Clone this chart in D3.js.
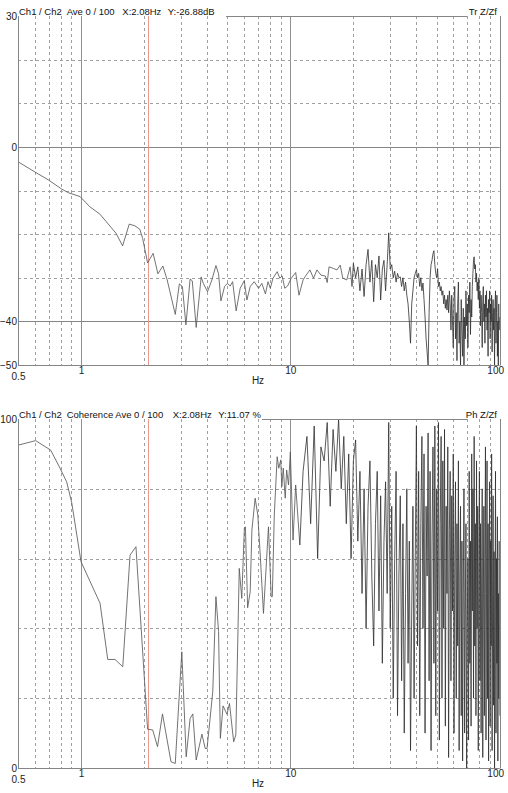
<!DOCTYPE html>
<html><head><meta charset="utf-8">
<script src="https://cdn.jsdelivr.net/npm/d3@7/dist/d3.min.js"></script>
<style>
html,body{margin:0;padding:0;background:#fff;}
svg{display:block;font-family:"Liberation Sans",Arial,Helvetica,sans-serif;}
</style>
</head><body>
<svg id="chart" width="508" height="793"></svg>
<script>
// ---------------- data ----------------
const freqTickValues = [0.5, 1, 10, 100];
const freqTickLabels = ["0.5", "1", "10", "100"];
const minorGridHz = [0.6, 0.7, 0.8, 0.9, 2, 3, 4, 5, 6, 7, 8, 9, 20, 30, 40, 50, 60, 70, 80, 90];
const majorGridHz = [1, 10];
const trTickValues = [30, 0, -40, -50];
const trDashedGrid = [20, 10, -10, -20, -30];
const trSolidGrid = [0, -40];
const cohTickValues = [100, 0];
const cohDashedGrid = [80, 60, 40, 20];
const cursorHz = 2.08;

const trHeader = ["Ch1 / Ch2", "Ave 0 / 100", "X:2.08Hz", "Y:-26.88dB"];
const trRightLabel = "Tr Z/Zf";
const cohHeader = ["Ch1 / Ch2", "Coherence Ave 0 / 100", "X:2.08Hz", "Y:11.07 %"];
const cohRightLabel = "Ph Z/Zf";
const xAxisTitle = "Hz";

// Transmissibility (dB), low band: explicit frequency / value pairs
const trLowHz = [0.5, 0.59, 0.70, 0.81, 0.87, 0.99, 1.10, 1.23, 1.47, 1.58, 1.70, 1.81, 1.91, 1.97, 2.08, 2.21, 2.33, 2.46, 2.58, 2.82,
  2.95, 3.05, 3.17, 3.32, 3.40, 3.55, 3.75, 3.84, 4.02, 4.22, 4.41, 4.54, 4.66, 4.85, 5.0, 5.16, 5.3, 5.51, 5.76, 6.02,
  6.2, 6.43, 6.72, 7.05, 7.31, 7.6, 7.82, 8.02, 8.26, 8.65, 8.9, 9.14, 9.4, 9.7, 10.1, 10.6, 11.0, 11.5, 11.9, 12.4,
  12.9, 13.4, 14.0, 14.7, 15.0, 15.3, 16.1, 16.7, 17.3, 17.8, 18.6, 19.3, 19.7];
const trLowDb = [-3.4, -5.5, -7.6, -9.7, -10.5, -11.4, -13.7, -15.4, -19.8, -22.7, -17.7, -18.1, -18.9, -21, -26.6, -24.4, -29.1, -27.3, -30.5, -38.4,
  -31.4, -32, -40.8, -30.3, -30.7, -41.4, -29.8, -31.3, -33.2, -30.5, -27.2, -29.1, -35.3, -32, -31.3, -31.9, -30.9, -37.6, -32.4, -30.7,
  -35.1, -32, -30.9, -32.4, -31.3, -33.7, -30.9, -32.4, -30.1, -28.6, -30.1, -29.6, -32.4, -31.9, -30.1, -28.8, -34, -30.5, -29.4, -28.2,
  -30.1, -28.2, -29.4, -29.6, -31.1, -27.5, -27.9, -28.2, -27.1, -30.1, -30.5, -27.5, -32];
// Transmissibility (dB), high band: bins from 20 Hz every 0.5 Hz
const trHighStartHz = 20, trHighStepHz = 0.5;
const trHighDb = [
  -26.7, -30, -27.5, -33, -28, -34.3, -27, -23.5, -31, -26,
  -35.5, -27, -30, -25, -35.1, -28, -26, -33, -27, -19.7,
  -28, -27, -30, -28.5, -31, -29, -30, -29.8, -32, -30,
  -33, -31, -34, -36, -40, -45, -36, -33, -30, -29,
  -28.2, -30, -29, -32, -30, -33, -31.2, -35, -39, -44,
  -47, -50, -38, -30, -27, -26, -24.5, -23.8, -27, -29,
  -30, -28, -32, -31, -33, -32, -34, -33, -36, -34,
  -37, -35, -37.4, -34, -38, -33, -36, -42, -34, -40,
  -46, -35, -32, -44, -38, -49, -36, -31, -45, -40,
  -50, -35, -42, -48, -37, -50, -39, -44, -33, -41,
  -36, -46, -34, -38, -31, -43, -35, -39, -32, -29,
  -26, -25.2, -28, -27, -31, -29, -33, -31, -35, -30,
  -37, -33, -41, -34, -38, -46, -35, -32, -40, -36,
  -45, -34, -39, -33, -42, -37, -48, -35, -38, -33,
  -44, -36, -40, -34, -47, -38, -35, -42, -37, -50,
  -36, -33, -45, -38, -34, -48, -40, -50, -36, -42,
  -39];

// Coherence (%), low band: explicit frequency / value pairs
const cohLowHz = [0.5, 0.607, 0.716, 0.788, 0.854, 0.903, 1.0, 1.233, 1.342, 1.454, 1.583, 1.715, 1.83, 2.08, 2.2, 2.32, 2.45, 2.69, 2.82, 3.03,
  3.18, 3.32, 3.42, 3.55, 3.78, 3.92, 4.0, 4.26, 4.41, 4.54, 4.63, 4.77, 4.98, 5.12, 5.36, 5.49, 5.7, 5.86, 6.03, 6.1,
  6.25, 6.43, 6.55, 6.79, 6.99, 7.18, 7.44, 7.86, 8.1, 8.2, 8.38, 8.65, 8.8, 9.0, 9.1, 9.25, 9.45, 9.6, 9.8, 10.0,
  10.3, 10.6, 11.1];
const cohLowPct = [92.5, 93.8, 91.1, 86.3, 82, 76, 59.1, 47.2, 31.1, 31.1, 29, 61, 63.4, 11.1, 10.9, 6.1, 15.5, 1.8, 1.3, 33.3,
  3.2, 14.2, 15.5, 2.3, 9.7, 5.6, 5.6, 21.9, 49.1, 39.1, 8.5, 17.8, 15.4, 18.5, 7.5, 9.5, 57.2, 48.6, 68.7, 69.1,
  45.9, 50.5, 68.2, 77.3, 72.5, 61, 44.3, 69.1, 49.1, 49.1, 72.5, 89.2, 85.9, 88.3, 80.6, 85.9, 77.3, 85.4, 81.1, 90.6,
  65.3, 81.1, 63.9];
// Coherence (%), high band: bins from 11.5 Hz every 0.5 Hz
const cohHighStartHz = 11.5, cohHighStepHz = 0.5;
const cohHighPct = [
  85, 95, 70, 98, 60, 92, 88, 99, 75, 97,
  85, 100, 80, 95, 70, 90, 60, 88, 94, 65,
  85, 50, 80, 40, 75, 88, 55, 35, 70, 85,
  45, 78, 30, 65, 82, 50, 99, 40, 75, 20,
  60, 85, 15, 55, 78, 25, 70, 10, 50, 80,
  30, 65, 5, 45, 75, 20, 60, 98, 35, 85,
  15, 70, 95, 40, 90, 10, 75, 55, 96, 25,
  85, 5, 65, 92, 30, 98, 15, 80, 45, 99,
  8, 70, 95, 20, 88, 40, 97, 12, 75, 50,
  92, 3, 68, 85, 25, 78, 45, 90, 10, 60,
  82, 20, 70, 35, 88, 5, 55, 75, 15, 65,
  2, 50, 80, 10, 45, 70, 0, 40, 60, 8,
  85, 30, 65, 12, 90, 45, 80, 20, 95, 35,
  70, 15, 88, 40, 75, 5, 60, 85, 25, 70,
  10, 55, 80, 3, 45, 75, 15, 60, 92, 8,
  50, 88, 20, 70, 2, 55, 82, 12, 65, 35,
  90, 5, 50, 78, 18, 62, 0, 45, 85, 10,
  60, 30, 72, 2, 50, 20, 65, 15];

// ---------------- drawing ----------------
const svg = d3.select("#chart");
const X0 = 18, X1 = 499.7;
const x = d3.scaleLog().domain([0.5, 100]).range([X0, X1]);

function buildBands(lowHz, lowVals, startHz, stepHz, highVals) {
  const low = lowHz.map((f, i) => [f, lowVals[i]]);
  const high = highVals.map((v, i) => [startHz + i * stepHz, v]);
  // the dense band continues from the last point of the sparse band
  return [low, [low[low.length - 1]].concat(high)];
}

function panel(cfg) {
  const g = svg.append("g");
  const y = d3.scaleLinear().domain(cfg.domain).range([cfg.y1, cfg.y0]);
  const px = v => Math.round(v) + 0.5;

  // vertical grid
  g.selectAll(".vmin").data(minorGridHz).join("line")
    .attr("x1", d => px(x(d))).attr("x2", d => px(x(d)))
    .attr("y1", cfg.y0).attr("y2", cfg.y1)
    .attr("stroke", "#a0a0a0").attr("stroke-width", 1).attr("stroke-dasharray", "3,3");
  g.selectAll(".vmaj").data(majorGridHz).join("line")
    .attr("x1", d => px(x(d))).attr("x2", d => px(x(d)))
    .attr("y1", cfg.y0).attr("y2", cfg.y1)
    .attr("stroke", "#909090").attr("stroke-width", 1);
  // horizontal grid
  g.selectAll(".hd").data(cfg.dashed).join("line")
    .attr("x1", X0).attr("x2", X1)
    .attr("y1", d => px(y(d))).attr("y2", d => px(y(d)))
    .attr("stroke", "#a0a0a0").attr("stroke-width", 1).attr("stroke-dasharray", "3,3");
  g.selectAll(".hs").data(cfg.solid).join("line")
    .attr("x1", X0).attr("x2", X1)
    .attr("y1", d => px(y(d))).attr("y2", d => px(y(d)))
    .attr("stroke", "#858585").attr("stroke-width", 1);

  // cursor
  g.append("line")
    .attr("x1", px(x(cursorHz))).attr("x2", px(x(cursorHz)))
    .attr("y1", cfg.y0).attr("y2", cfg.y1)
    .attr("stroke", "#eb9a92").attr("stroke-width", 1);

  // data line
  const clipId = "clip" + cfg.id;
  svg.append("clipPath").attr("id", clipId).append("rect")
    .attr("x", X0).attr("y", cfg.y0).attr("width", X1 - X0).attr("height", cfg.y1 - cfg.y0);
  const line = d3.line().x(d => x(d[0])).y(d => y(d[1]));
  const bandStyle = [["#5a5a5a", 0.85], ["#2e2e2e", 0.8]];
  g.selectAll(".series").data(cfg.bands).join("path")
    .attr("clip-path", `url(#${clipId})`)
    .attr("fill", "none")
    .attr("stroke", (d, i) => bandStyle[i][0])
    .attr("stroke-width", (d, i) => bandStyle[i][1])
    .attr("stroke-linejoin", "miter").attr("d", line);

  // frame: left, bottom, right, partial top
  g.append("line").attr("x1", px(X0)).attr("x2", px(X0)).attr("y1", cfg.y0).attr("y2", cfg.y1 + 0.5)
    .attr("stroke", "#858585");
  g.append("line").attr("x1", X0).attr("x2", X1).attr("y1", px(cfg.y1)).attr("y2", px(cfg.y1))
    .attr("stroke", "#858585");
  g.append("line").attr("x1", px(X1)).attr("x2", px(X1)).attr("y1", cfg.y0).attr("y2", cfg.y1 + 0.5)
    .attr("stroke", "#858585");
  g.append("line").attr("x1", cfg.topLineFrom).attr("x2", 467).attr("y1", px(cfg.y0)).attr("y2", px(cfg.y0))
    .attr("stroke", "#858585");

  // y axis labels
  const ya = d3.axisLeft(y).tickValues(cfg.ticks).tickSize(0).tickPadding(1)
    .tickFormat(d3.format("d"));
  const yg = g.append("g").attr("transform", `translate(${X0},0)`).call(ya);
  yg.select(".domain").remove();
  yg.selectAll("text").attr("font-size", "10px").attr("fill", "#222")
    .attr("font-family", '"Liberation Sans",Arial,sans-serif');

  // x axis labels
  const xa = d3.axisBottom(x).tickValues(freqTickValues).tickSize(0).tickPadding(0)
    .tickFormat((d, i) => freqTickLabels[i]);
  const xg = g.append("g").attr("transform", `translate(0,${cfg.y1})`).call(xa);
  xg.select(".domain").remove();
  xg.selectAll("text").attr("font-size", "10px").attr("fill", "#222")
    .attr("font-family", '"Liberation Sans",Arial,sans-serif')
    .attr("dy", null)
    .attr("y", (d) => d === 0.5 ? 15 : 9)
    .attr("dx", (d) => d === 100 ? -4.5 : 0)
    .attr("dominant-baseline", "auto");
  g.append("text").attr("x", 258).attr("y", cfg.y1 + 19).attr("text-anchor", "middle")
    .attr("font-size", "10px").attr("fill", "#222").text(xAxisTitle);

  // header
  const hx = cfg.headerX;
  g.selectAll(".hdr").data(cfg.header).join("text")
    .attr("x", (d, i) => hx[i]).attr("y", cfg.y0 - 1.5)
    .attr("font-size", "9.5px").attr("fill", "#111").text(d => d);
  g.append("text").attr("x", 497).attr("y", cfg.y0 - 1.5).attr("text-anchor", "end")
    .attr("font-size", "9.5px").attr("fill", "#111").text(cfg.right);
}

panel({
  id: "tr", y0: 16, y1: 365, domain: [-50, 30],
  ticks: trTickValues, dashed: trDashedGrid, solid: trSolidGrid,
  bands: buildBands(trLowHz, trLowDb, trHighStartHz, trHighStepHz, trHighDb),
  header: trHeader, headerX: [19, 66.7, 122.3, 167.7], right: trRightLabel, topLineFrom: 226
});
panel({
  id: "coh", y0: 419, y1: 768, domain: [0, 100],
  ticks: cohTickValues, dashed: cohDashedGrid, solid: [],
  bands: buildBands(cohLowHz, cohLowPct, cohHighStartHz, cohHighStepHz, cohHighPct),
  header: cohHeader, headerX: [19, 66.7, 172.7, 218.3], right: cohRightLabel, topLineFrom: 262
});
</script>
</body></html>
